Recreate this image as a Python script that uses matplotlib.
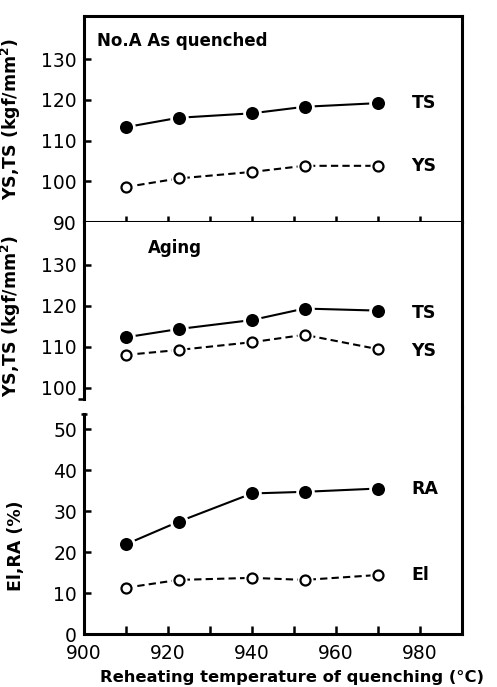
import matplotlib
matplotlib.use("Agg")
import matplotlib.pyplot as plt
import numpy as np

plt.rcParams['font.family'] = ['DejaVu Sans']

temps = [910, 922.5, 940, 952.5, 970]
# As quenched
aq_ts = [113.3, 115.6, 116.7, 118.3, 119.2]
aq_ys = [98.6, 100.7, 102.3, 103.8, 103.8]
# Aging
ag_ts = [112.3, 114.3, 116.5, 119.3, 118.8]
ag_ys = [108.0, 109.2, 111.1, 112.9, 109.4]
# Elongation / reduction of area
ra = [21.9, 27.4, 34.3, 34.7, 35.5]
el = [11.3, 13.2, 13.7, 13.2, 14.4]

ys_ticks_top = [90, 100, 110, 120, 130]
ys_ticks_mid = [100, 110, 120, 130]
el_ticks = [0, 10, 20, 30, 40, 50]
x_major = [900, 920, 940, 960, 980]
x_minor = [910, 930, 950, 970]

W, H = 497, 687
fig = plt.figure(figsize=(W / 100, H / 100), dpi=100)

def fy(px):
    return 1 - px / H

left = 84 / W
width = (462 - 84) / W
ax1 = fig.add_axes([left, fy(222), width, fy(16) - fy(222)])
ax2 = fig.add_axes([left, fy(407), width, fy(222) - fy(407)])
ax3 = fig.add_axes([left, fy(634), width, fy(407) - fy(634)])

SW = 2.2
LW = 1.5
FS = 13.5
for ax in (ax1, ax2, ax3):
    for s in ax.spines.values():
        s.set_linewidth(SW)
    ax.set_xlim(900, 990)
    ax.tick_params(axis='y', direction='in', length=5, width=1.8, labelsize=FS, pad=5)

def series(ax, x, y, filled, dashed):
    ls = (0, (3.5, 2.0)) if dashed else '-'
    ax.plot(x, y, color='black', lw=LW, linestyle=ls, zorder=2)
    if filled:
        ax.plot(x, y, linestyle='none', marker='o', ms=11.4, mfc='black',
                mec='white', mew=2.0, zorder=3)
    else:
        ax.plot(x, y, linestyle='none', marker='o', ms=11.5, mfc='white',
                mec='white', mew=0, zorder=3)
        ax.plot(x, y, linestyle='none', marker='o', ms=7.2, mfc='white',
                mec='black', mew=1.6, zorder=4)

# Top panel
ax1.set_ylim(90, 140.6)
ax1.set_yticks(ys_ticks_top)
ax1.set_xticks(x_major + x_minor)
ax1.tick_params(axis='x', direction='inout', length=9, width=1.8, labelbottom=False)
series(ax1, temps, aq_ts, True, False)
series(ax1, temps, aq_ys, False, True)
ax1.text(0.035, 0.88, 'No.A As quenched', transform=ax1.transAxes, fontsize=12,
         fontweight='bold', va='center', ha='left')
ax1.text(978, aq_ts[-1], 'TS', fontsize=12.5, fontweight='bold', va='center', ha='left')
ax1.text(978, aq_ys[-1], 'YS', fontsize=12.5, fontweight='bold', va='center', ha='left')
ax1.set_ylabel('YS,TS (kgf/mm$^{\\mathbf{2}}$)', fontsize=12.5, fontweight='bold')
ax1.yaxis.set_label_coords(-0.161, 0.5)

# Middle panel
ax2.set_ylim(95.3, 140.4)
ax2.set_yticks(ys_ticks_mid)
ax2.set_yticks([97.3], minor=True)
ax2.tick_params(axis='y', which='minor', direction='out', length=4, width=1.8)
ax2.spines['bottom'].set_visible(False)
ax2.spines['top'].set_visible(False)
ax2.spines['left'].set_bounds(97.3, 140.4)
ax2.tick_params(axis='x', bottom=False, labelbottom=False)
series(ax2, temps, ag_ts, True, False)
series(ax2, temps, ag_ys, False, True)
ax2.text(0.17, 0.86, 'Aging', transform=ax2.transAxes, fontsize=12,
         fontweight='bold', va='center', ha='left')
ax2.text(978, 118.2, 'TS', fontsize=12.5, fontweight='bold', va='center', ha='left')
ax2.text(978, 109.0, 'YS', fontsize=12.5, fontweight='bold', va='center', ha='left')
ax2.set_ylabel('YS,TS (kgf/mm$^{\\mathbf{2}}$)', fontsize=12.5, fontweight='bold')
ax2.yaxis.set_label_coords(-0.161, 0.49)

# Bottom panel
ax3.set_ylim(0, 55.4)
ax3.set_yticks(el_ticks)
ax3.set_yticks([53.6], minor=True)
ax3.tick_params(axis='y', which='minor', direction='inout', length=5, width=1.8)
ax3.spines['top'].set_visible(False)
ax3.spines['left'].set_bounds(0, 53.6)
ax3.set_xticks(x_major)
ax3.set_xticks(x_minor, minor=True)
ax3.tick_params(axis='x', which='both', direction='in', length=6, width=1.8,
                labelsize=FS, pad=7)
series(ax3, temps, ra, True, False)
series(ax3, temps, el, False, True)
ax3.text(978, ra[-1], 'RA', fontsize=12.5, fontweight='bold', va='center', ha='left')
ax3.text(978, el[-1], 'El', fontsize=12.5, fontweight='bold', va='center', ha='left')
ax3.set_ylabel('El,RA (%)', fontsize=12.5, fontweight='bold')
ax3.yaxis.set_label_coords(-0.156, 0.388)
ax3.set_xlabel('Reheating temperature of quenching (°C)', fontsize=11.8, fontweight='bold')
ax3.xaxis.set_label_coords(0.55, -0.16)

fig.savefig('out.png', dpi=100)
